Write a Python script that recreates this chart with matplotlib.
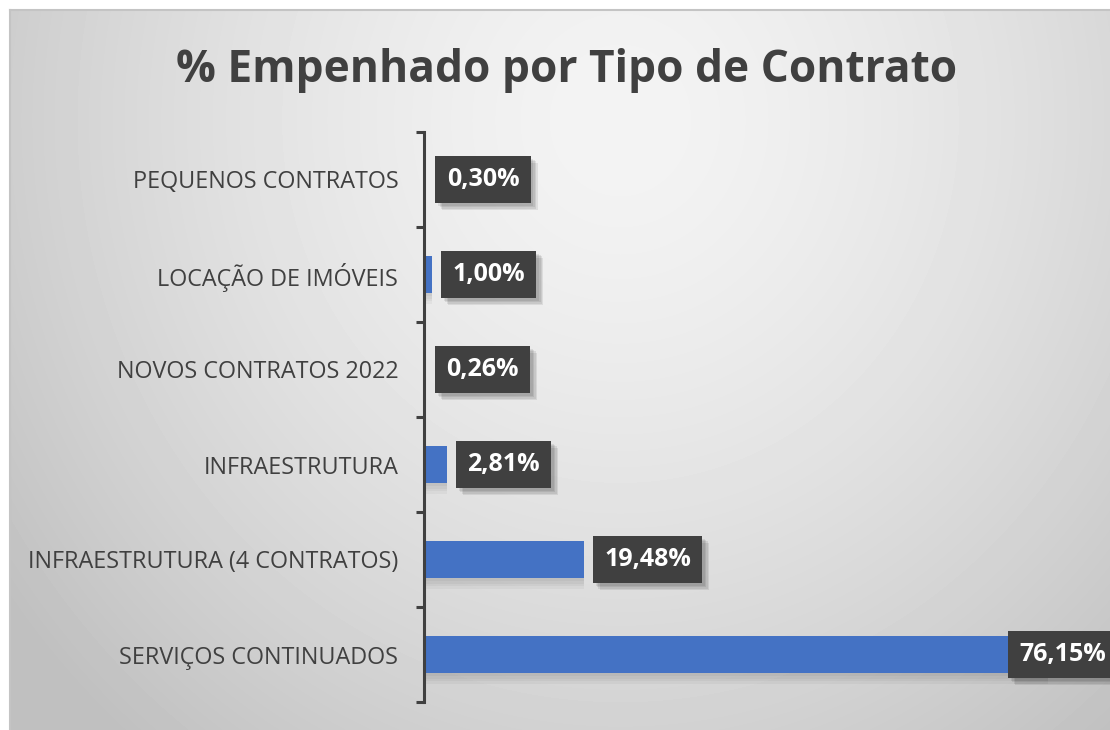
import numpy as np
import matplotlib.pyplot as plt
import matplotlib.patheffects as pe

# data (bottom to top, as drawn)
categorias = ['SERVIÇOS CONTINUADOS', 'INFRAESTRUTURA (4 CONTRATOS)', 'INFRAESTRUTURA',
              'NOVOS CONTRATOS 2022', 'LOCAÇÃO DE IMÓVEIS', 'PEQUENOS CONTRATOS']
percentuais = [76.15, 19.48, 2.81, 0.26, 1.00, 0.30]
rotulos = ['76,15%', '19,48%', '2,81%', '0,26%', '1,00%', '0,30%']
titulo = '% Empenhado por Tipo de Contrato'

cinza = '#404040'
azul = '#4472C4'
fonte = 'Open Sans'

fig = plt.figure(figsize=(11.1, 7.3), dpi=100)
fig.patch.set_facecolor('white')

# background of the chart area, radial gray gradient
bg = fig.add_axes([10 / 1110, 0, 1 - 10 / 1110, 720 / 730])
h, w = 720, 1100
yy, xx = np.mgrid[0:h, 0:w]
d = np.sqrt(((xx - 610) / 700.0) ** 2 + ((yy - 110) / 750.0) ** 2)
img = np.clip(0.955 - 0.18 * d ** 1.5, 0.75, 1)
bg.imshow(img, cmap='gray', vmin=0, vmax=1, aspect='auto', interpolation='bilinear')
bg.set_xticks([]); bg.set_yticks([])
for s in ['right', 'bottom']:
    bg.spines[s].set_visible(False)
for s in ['top', 'left']:
    bg.spines[s].set_color('#c4c4c4')
    bg.spines[s].set_linewidth(1.5)

ax = fig.add_axes([424 / 1110, 28 / 730, 656 / 1110, 570 / 730])
ax.patch.set_alpha(0)
y = np.arange(len(categorias))

sombra_barra = [pe.SimplePatchShadow(offset=(0, -k), shadow_rgbFace='k', alpha=0.035) for k in (2, 4, 6, 8)]
barras = ax.barh(y, percentuais, height=0.39, color=azul, zorder=2)
for b in barras:
    b.set_path_effects(sombra_barra + [pe.Normal()])

ax.set_xlim(0, 80)
ax.set_ylim(-0.5, len(categorias) - 0.5)
ax.set_xticks([])
ax.set_yticks(y)
ax.set_yticklabels(categorias, fontsize=16.8, color=cinza, family=fonte)
ax.set_yticks(np.arange(-0.5, len(categorias)), minor=True)
ax.tick_params(axis='y', which='major', length=0, pad=18.5)
ax.tick_params(axis='y', which='minor', length=5.5, width=2.2, color=cinza)
for s in ['top', 'right', 'bottom']:
    ax.spines[s].set_visible(False)
ax.spines['left'].set_color(cinza)
ax.spines['left'].set_linewidth(2.2)
ax.spines['left'].set_capstyle('projecting')

# data labels: dark boxes with a soft shadow
sombra_caixa = [pe.SimplePatchShadow(offset=(k, -k), shadow_rgbFace='k', alpha=0.08) for k in (5, 4, 3, 2)]
for yi, v, r in zip(y, percentuais, rotulos):
    dx = 14.6 if v < 70 else -21
    t = ax.annotate(r, xy=(v, yi), xytext=(dx, 0), textcoords='offset points',
                    ha='left', va='center', fontsize=18, fontweight='bold', color='white',
                    family=fonte, zorder=5, annotation_clip=False,
                    bbox=dict(boxstyle='square,pad=0.45', facecolor=cinza, linewidth=0))
    t.get_bbox_patch().set_path_effects(sombra_caixa + [pe.Normal()])

fig.text(0.510, (730 - 82) / 730, titulo, ha='center', va='baseline', fontsize=31.9,
         fontweight='bold', color=cinza, family=fonte)

fig.savefig('out.png', dpi=100)
